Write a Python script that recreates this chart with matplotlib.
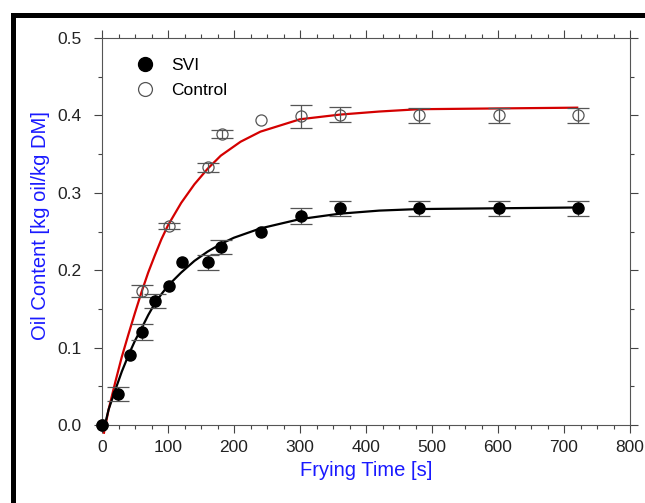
import numpy as np
import matplotlib.pyplot as plt
from matplotlib.patches import Rectangle
from matplotlib.lines import Line2D

plt.rcParams['font.family'] = ['Liberation Sans', 'DejaVu Sans']

# measured points
svi_t = [0, 24, 42, 61, 81, 101, 121, 161, 181, 241, 301, 361, 481, 601, 721]
svi_y = [0.0, 0.04, 0.09, 0.12, 0.16, 0.18, 0.21, 0.21, 0.23, 0.25, 0.27, 0.28, 0.28, 0.28, 0.28]
svi_err = [0, 0.009, 0, 0.01, 0.009, 0, 0, 0.01, 0.009, 0, 0.01, 0.01, 0.01, 0.01, 0.01]

ctl_t = [0, 61, 101, 161, 182, 241, 301, 361, 481, 601, 721]
ctl_y = [0.0, 0.173, 0.257, 0.333, 0.376, 0.394, 0.399, 0.401, 0.40, 0.40, 0.40]
ctl_err = [0, 0.008, 0.004, 0.006, 0.005, 0, 0.015, 0.01, 0.01, 0.01, 0.01]

# fitted curves
fit_svi_t = [3, 10, 20, 30, 40, 50, 60, 70, 80, 90, 100, 120, 140, 160, 180, 200, 240, 300,
             360, 420, 480, 600, 720]
fit_svi_y = [-0.005, 0.02, 0.045, 0.069, 0.09, 0.109, 0.125, 0.142, 0.157, 0.169, 0.18,
             0.197, 0.212, 0.224, 0.234, 0.242, 0.254, 0.266, 0.273, 0.277, 0.279, 0.28, 0.281]
fit_ctl_t = [3, 10, 20, 30, 40, 50, 60, 70, 80, 90, 100, 120, 140, 160, 180, 210, 240, 300,
             360, 420, 480, 600, 720]
fit_ctl_y = [-0.01, 0.02, 0.055, 0.088, 0.117, 0.145, 0.172, 0.197, 0.219, 0.24, 0.258,
             0.287, 0.311, 0.331, 0.348, 0.366, 0.379, 0.395, 0.401, 0.405, 0.408, 0.409, 0.41]

fig = plt.figure(figsize=(6.45, 5.03), dpi=100)
ax = fig.add_axes([102/645, 1-425/503, 528/645, 387/503])

ax.plot(fit_ctl_t, fit_ctl_y, color='#d40000', lw=1.6, zorder=2, clip_on=False)
ax.plot(fit_svi_t, fit_svi_y, color='black', lw=1.6, zorder=2, clip_on=False)

t = np.array(ctl_t); y = np.array(ctl_y); e = np.array(ctl_err)
m = e > 0
ax.errorbar(t[m], y[m], yerr=e[m], fmt='none', ecolor='#555555', elinewidth=0.9,
            capsize=8, capthick=0.9, zorder=3)
ax.plot(t, y, 'o', ms=8, mfc='none', mec='#555555', mew=0.9, zorder=4, clip_on=False)

t = np.array(svi_t); y = np.array(svi_y); e = np.array(svi_err)
m = e > 0
ax.errorbar(t[m], y[m], yerr=e[m], fmt='none', ecolor='#555555', elinewidth=0.9,
            capsize=8, capthick=0.9, zorder=3)
ax.plot(t, y, 'o', ms=8, color='black', zorder=5, clip_on=False)

ax.set_xlim(0, 800)
ax.set_ylim(0, 0.5)
ax.set_xticks(np.arange(0, 801, 100))
ax.set_xticks(np.arange(0, 801, 25), minor=True)
ax.set_yticks(np.arange(0, 0.51, 0.1))
ax.set_yticks(np.arange(0, 0.51, 0.05), minor=True)
ax.set_yticklabels(['%.1f' % v for v in np.arange(0, 0.51, 0.1)])
ax.tick_params(which='both', direction='out', top=True, right=True, colors='#444444',
               labelcolor='#222222', labelsize=12.5, width=0.8)
ax.tick_params(which='major', length=6)
ax.tick_params(which='minor', length=3)
ax.tick_params(axis='y', which='major', pad=9)
ax.tick_params(axis='x', which='major', pad=5)
for s in ax.spines.values():
    s.set_color('#555555')
    s.set_linewidth(0.8)

ax.set_xlabel('Frying Time [s]', color='#1a1aff', fontsize=14.5, labelpad=4)
ax.set_ylabel('Oil Content [kg oil/kg DM]', color='#1a1aff', fontsize=14.5, labelpad=6)
ax.yaxis.set_label_coords(-0.098, 0.515)

handles = [Line2D([], [], ls='none', marker='o', ms=10, color='black'),
           Line2D([], [], ls='none', marker='o', ms=10, mfc='none', mec='#555555', mew=0.9)]
ax.legend(handles, ['SVI', 'Control'], loc='upper left', bbox_to_anchor=(0.019, 0.99),
          frameon=False, fontsize=12.5, handletextpad=0.5, labelspacing=0.6)

fig.patches.append(Rectangle((13/645, -0.2), 1.2, 1.2 - 15/503, transform=fig.transFigure,
                             fill=False, ec='black', lw=3.6))

fig.savefig('out.png', dpi=100)
